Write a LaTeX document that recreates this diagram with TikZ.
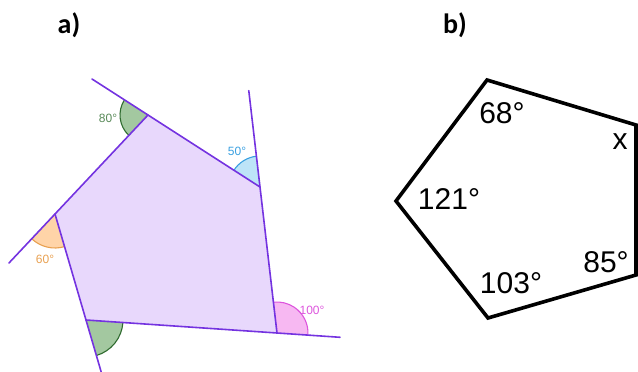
\documentclass[tikz,border=0pt]{standalone}
\usepackage{fontspec}
\setmainfont{Liberation Sans}
\newfontfamily\titlefont{Carlito}
\usetikzlibrary{calc, angles}
\definecolor{polyline}{HTML}{7433E0}
\definecolor{polyfill}{HTML}{E8D8FC}
\definecolor{greenfill}{HTML}{A3C8A0}
\definecolor{greenline}{HTML}{2F6B2F}
\definecolor{bluefill}{HTML}{BDE4F8}
\definecolor{blueline}{HTML}{3AA0E0}
\definecolor{pinkfill}{HTML}{F7B8F2}
\definecolor{pinkline}{HTML}{DD55DD}
\definecolor{orangefill}{HTML}{FFD4A8}
\definecolor{orangeline}{HTML}{E8A050}

\begin{document}
\begin{tikzpicture}[x=1pt, y=-1pt,
    side/.style={polyline, line width=1.6pt, line cap=round},
    arcmark/.style={line width=1.1pt},
    small/.style={anchor=base, inner sep=0pt, font=\fontsize{12}{14}\selectfont},
    big/.style={anchor=base, inner sep=0pt, font=\fontsize{30}{32}\selectfont},
    heading/.style={anchor=base, inner sep=0pt, font=\titlefont\bfseries\fontsize{28}{30}\selectfont},
    thick pent/.style={black, line width=3.6pt, line join=miter}
  ]
    \useasboundingbox (0,0) rectangle (638,372);

    % headings
    \node[heading] (ta) at (69,34) {a)};
    \node[heading] (tb) at (455,33) {b)};

    % panel a: pentagon with exterior angles
    \coordinate (V1) at (148,115);
    \coordinate (V2) at (260,187);
    \coordinate (V3) at (277,333);
    \coordinate (V4) at (86,320);
    \coordinate (V5) at (55,214);
    \coordinate (E1) at ($(V2)!1.5!(V1)$);
    \coordinate (E2) at ($(V3)!1.66!(V2)$);
    \coordinate (E3) at ($(V4)!1.33!(V3)$);
    \coordinate (E4) at ($(V5)!1.49!(V4)$);
    \coordinate (E5) at ($(V1)!1.495!(V5)$);

    \fill[polyfill] (V1) -- (V2) -- (V3) -- (V4) -- (V5) -- cycle;

    \pic[arcmark, draw=greenline, fill=greenfill, angle radius=28pt] {angle = E1--V1--V5};
    \pic[arcmark, draw=blueline, fill=bluefill, angle radius=31pt] {angle = E2--V2--V1};
    \pic[arcmark, draw=pinkline, fill=pinkfill, angle radius=31pt] {angle = E3--V3--V2};
    \pic[arcmark, draw=greenline, fill=greenfill, angle radius=37pt] {angle = E4--V4--V3};
    \pic[arcmark, draw=orangeline, fill=orangefill, angle radius=34pt] {angle = E5--V5--V4};

    \draw[side] (E1) -- (V2);
    \draw[side] (E2) -- (V3);
    \draw[side] (E3) -- (V4);
    \draw[side] (E4) -- (V5);
    \draw[side] (E5) -- (V1);

    \node[small, text=greenline!80] (a80) at (108,122) {80°};
    \node[small, text=blueline] (a50) at (237,155) {50°};
    \node[small, text=pinkline] (a100) at (312,314) {100°};
    \node[small, text=orangeline] (a60) at (45,263) {60°};

    % panel b: pentagon with interior angles
    \coordinate (P1) at (487,80);
    \coordinate (P2) at (636,125);
    \coordinate (P3) at (636,275);
    \coordinate (P4) at (488,318);
    \coordinate (P5) at (396,201);
    \draw[thick pent] (P1) -- (P2) -- (P3) -- (P4) -- (P5) -- cycle;

    \node[big] (b68) at (502,123) {68°};
    \node[big] (bx) at (620,149) {x};
    \node[big] (b121) at (449,209) {121°};
    \node[big] (b85) at (606,272) {85°};
    \node[big] (b103) at (511,293) {103°};
\end{tikzpicture}
\end{document}
